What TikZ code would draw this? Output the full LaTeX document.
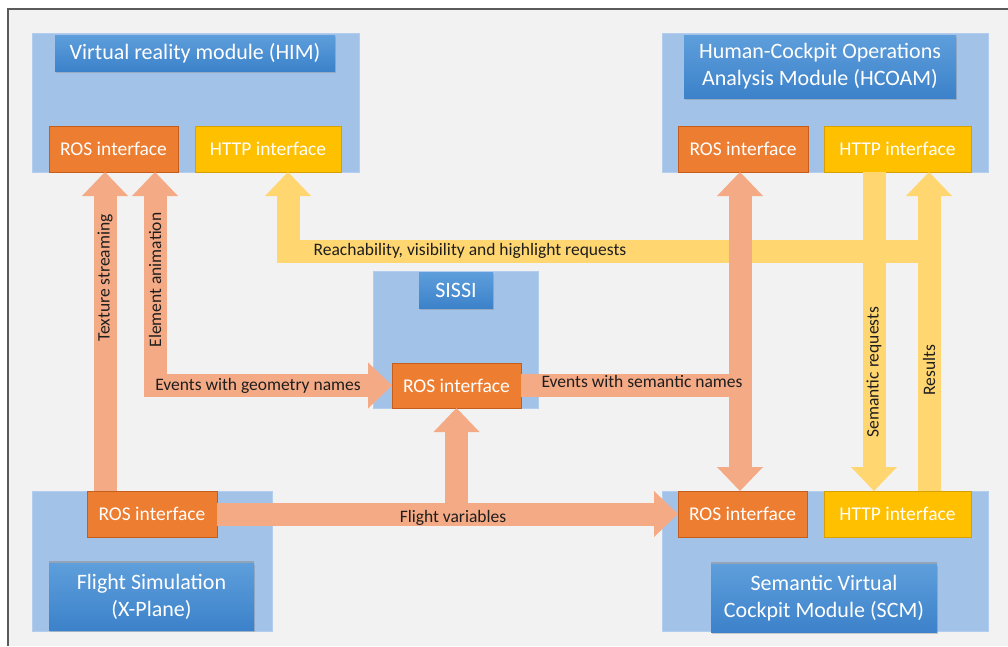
\documentclass[tikz,border=0pt]{standalone}
\usepackage{fontspec}
\setmainfont{Carlito}
\usetikzlibrary{arrows.meta,shadows}

\definecolor{pagebg}{RGB}{242,242,242}
\definecolor{framegray}{RGB}{90,90,90}
\definecolor{boxblue}{RGB}{163,194,232}
\definecolor{boxedge}{RGB}{178,205,238}
\definecolor{titletop}{RGB}{94,158,219}
\definecolor{titlebot}{RGB}{60,130,202}
\definecolor{rosorange}{RGB}{237,125,49}
\definecolor{rosedge}{RGB}{196,94,28}
\definecolor{httpgold}{RGB}{255,192,0}
\definecolor{httpedge}{RGB}{214,160,0}
\definecolor{salmon}{RGB}{245,170,134}
\definecolor{sand}{RGB}{255,214,112}
\definecolor{labeltext}{RGB}{30,30,30}

\tikzset{
  bigbox/.style={anchor=north west, inner sep=0pt, outer sep=0pt,
    fill=boxblue, draw=boxedge, line width=0.6pt},
  titlebox/.style={anchor=north west, inner sep=0pt, outer sep=0pt,
    top color=titletop, bottom color=titlebot, draw=none,
    text=white, align=center,
    font=\fontsize{22}{27}\selectfont,
    drop shadow={shadow xshift=0.5pt, shadow yshift=-1.8pt, opacity=0.35}},
  lowtitle/.style={titlebox,
    drop shadow={shadow xshift=0pt, shadow yshift=1.6pt, opacity=0.45}},
  rosbox/.style={anchor=north west, inner sep=0pt, outer sep=0pt,
    fill=rosorange, draw=rosedge, line width=0.8pt, text=white,
    font=\fontsize{19.5}{23}\selectfont},
  httpbox/.style={rosbox, fill=httpgold, draw=httpedge},
  salband/.style={draw=salmon, line width=23pt},
  sandband/.style={draw=sand, line width=23pt},
  onetip/.style={-{Triangle[width=46pt,length=24pt,line width=0pt]}},
  twotip/.style={{Triangle[width=46pt,length=24pt,line width=0pt]}-{Triangle[width=46pt,length=24pt,line width=0pt]}},
  lbl/.style={inner sep=0pt, text=labeltext,
    font=\fontsize{17.5}{21}\selectfont}
}

\begin{document}
\begin{tikzpicture}[x=1pt, y=-1pt]
\useasboundingbox (0,0) rectangle (1008,646);

% page and frame
\fill[white] (0,0) rectangle (1008,646);
\fill[pagebg] (8,9) rectangle (1008,646);
\draw[framegray, line width=1.2pt] (8,646) -- (8,9) -- (1008,9);

% module containers
\node[bigbox, minimum width=327pt, minimum height=139pt] (him) at (32,33) {};
\node[bigbox, minimum width=326pt, minimum height=139pt] (hcoam) at (662,33) {};
\node[bigbox, minimum width=165pt, minimum height=137pt] (sissi) at (373,271) {};
\node[bigbox, minimum width=240pt, minimum height=140pt] (fs) at (32,491) {};
\node[bigbox, minimum width=326pt, minimum height=140pt] (scm) at (662,491) {};

% module titles
\node[titlebox, minimum width=280pt, minimum height=36pt] (himt) at (55,35) {Virtual reality module (HIM)};
\node[titlebox, minimum width=272pt, minimum height=63pt] (hcoamt) at (684,35) {Human-Cockpit Operations\\Analysis Module (HCOAM)};
\node[titlebox, minimum width=74pt, minimum height=36pt] (sissit) at (419,272) {SISSI};
\node[lowtitle, minimum width=205pt, minimum height=67pt] (fst) at (49,563) {Flight Simulation\\(X-Plane)};
\node[lowtitle, minimum width=226pt, minimum height=68pt] (scmt) at (711,564) {Semantic Virtual\\Cockpit Module (SCM)};

% interfaces
\node[rosbox, minimum width=129pt, minimum height=46pt] (himros) at (49,126) {ROS interface};
\node[httpbox, minimum width=146pt, minimum height=46pt] (himhttp) at (195,126) {HTTP interface};
\node[rosbox, minimum width=130pt, minimum height=46pt] (hcros) at (678,126) {ROS interface};
\node[httpbox, minimum width=147pt, minimum height=46pt] (hchttp) at (824,126) {HTTP interface};
\node[rosbox, minimum width=129pt, minimum height=45pt] (sisros) at (392,363) {ROS interface};
\node[rosbox, minimum width=130pt, minimum height=46pt] (fsros) at (87,491) {ROS interface};
\node[rosbox, minimum width=129pt, minimum height=46pt] (scmros) at (678,491) {ROS interface};
\node[httpbox, minimum width=147pt, minimum height=46pt] (scmhttp) at (824,491) {HTTP interface};

% lanes of the connectors
\coordinate (xtex) at (105,0);
\coordinate (xel) at (155,0);
\coordinate (xreach) at (288,0);
\coordinate (xlink) at (740,0);
\coordinate (xsreq) at (874,0);
\coordinate (xres) at (929,0);
\coordinate (yreach) at (0,251);

% HTTP traffic
\draw[sandband, onetip] (xres |- yreach) -| (himhttp.south -| xreach);
\draw[sandband, onetip] (hchttp.south -| xsreq) -- (scmhttp.north -| xsreq);
\draw[sandband, onetip] (scmhttp.north -| xres) -- (hchttp.south -| xres);

% ROS traffic
\draw[salband, onetip] (fsros.north -| xtex) -- (himros.south -| xtex);
\draw[salband, twotip] (sisros.west) -| (himros.south -| xel);
\draw[salband] (sisros.east) -- (sisros.east -| xlink);
\draw[salband, twotip] (hcros.south -| xlink) -- (scmros.north -| xlink);
\draw[salband, onetip] (fsros.east) -- (scmros.west);
\draw[salband, onetip] (fsros.east -| sisros.south) -- (sisros.south);

% connector labels
\node[lbl, rotate=90] (ltex) at (105,278) {Texture streaming};
\node[lbl, rotate=90] (lel) at (155,280) {Element animation};
\node[lbl] (lgeo) at (258,386) {Events with geometry names};
\node[lbl] (lreach) at (470,251) {Reachability, visibility and highlight requests};
\node[lbl] (lsem) at (642,381) {Events with semantic names};
\node[lbl, rotate=90] (lsreq) at (874,372) {Semantic requests};
\node[lbl, rotate=90] (lres) at (929,370) {Results};
\node[lbl] (lfv) at (453,518) {Flight variables};
\end{tikzpicture}
\end{document}
